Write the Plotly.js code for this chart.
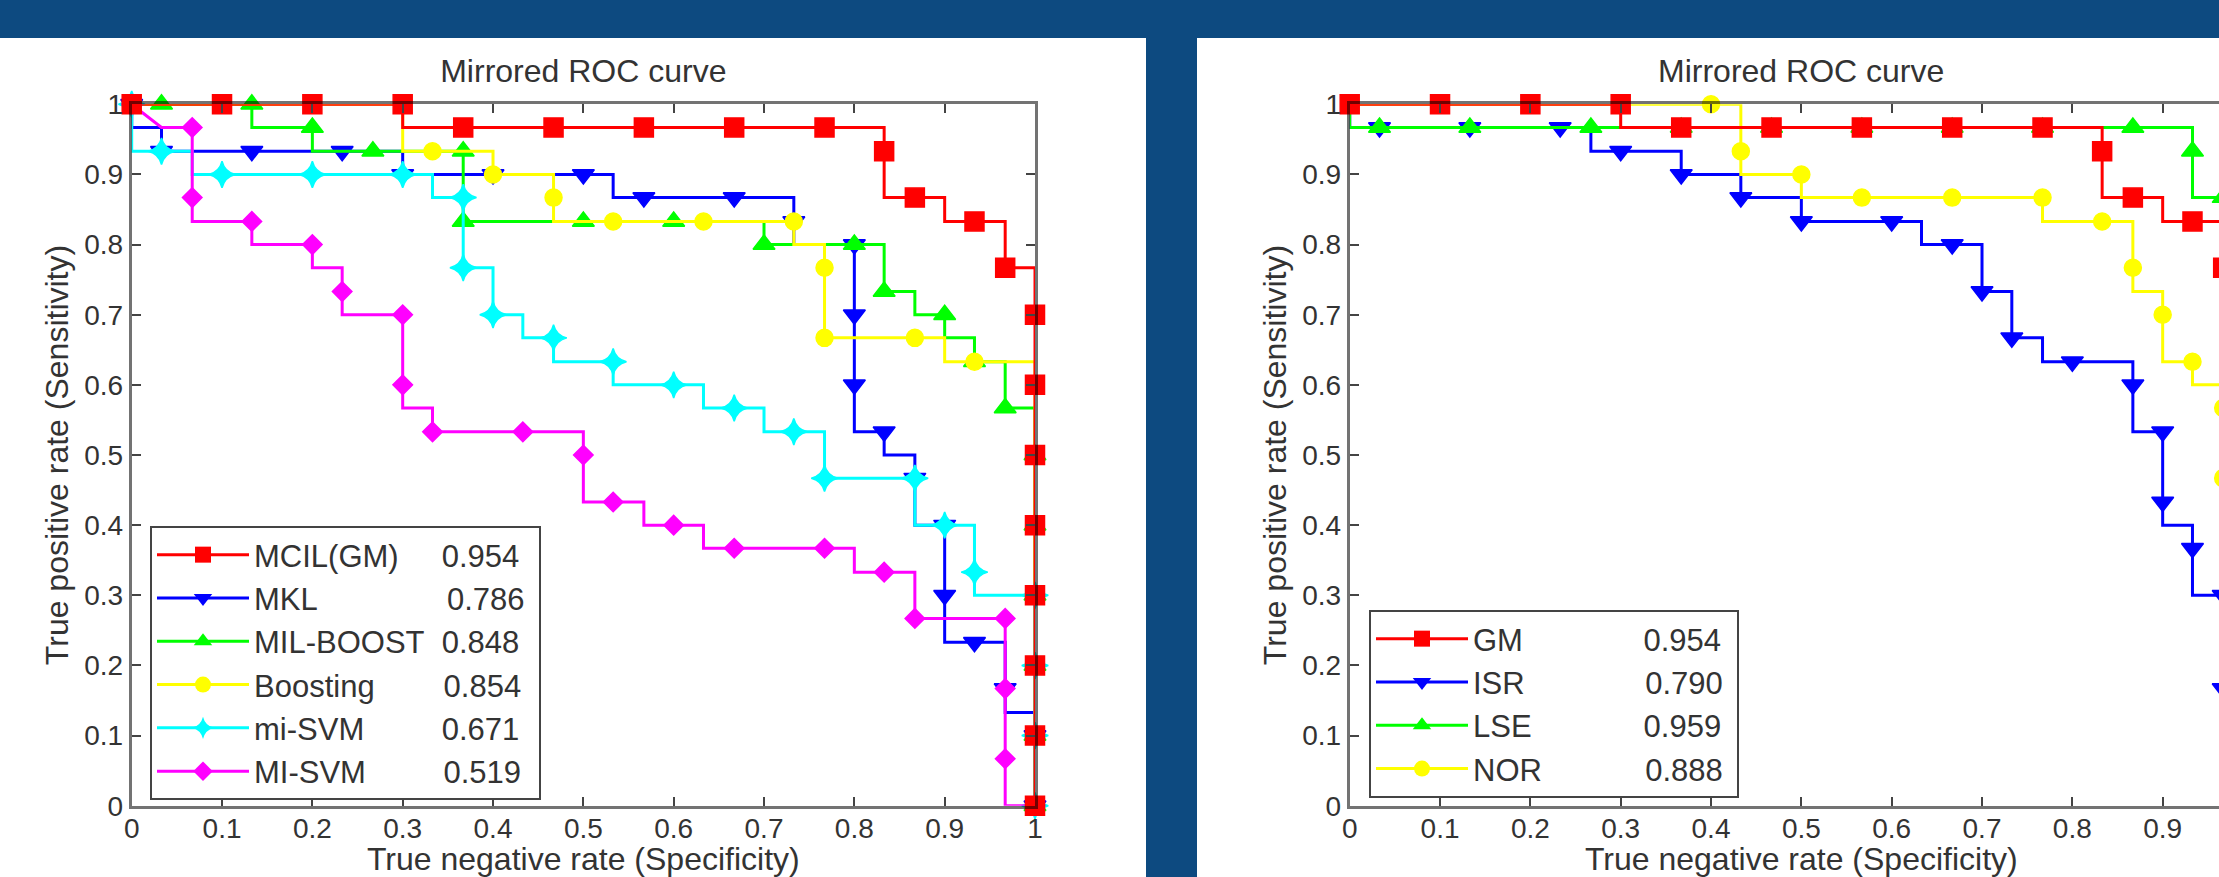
<!DOCTYPE html>
<html>
<head>
<meta charset="utf-8">
<script src="https://cdn.plot.ly/plotly-3.0.1.min.js"></script>
<style>
html,body{margin:0;padding:0;background:#0d4a80;overflow:hidden}
#wrap{width:2219px;height:877px;overflow:hidden;position:relative}
#chart{width:2300px;height:877px}
</style>
</head>
<body>
<div id="wrap"><div id="chart"></div></div>
<script>
// ---------------- data ----------------
const axisTicks = [0, 0.1, 0.2, 0.3, 0.4, 0.5, 0.6, 0.7, 0.8, 0.9, 1];
const axisTickText = ['0', '0.1', '0.2', '0.3', '0.4', '0.5', '0.6', '0.7', '0.8', '0.9', '1'];

const chartTitle = 'Mirrored ROC curve';
const xTitle = 'True negative rate (Specificity)';
const yTitle = 'True positive rate (Sensitivity)';

const leftNames = ['MCIL(GM)', 'MKL', 'MIL-BOOST', 'Boosting', 'mi-SVM', 'MI-SVM'];
const leftAUC = ['0.954', '0.786', '0.848', '0.854', '0.671', '0.519'];
const rightNames = ['GM', 'ISR', 'LSE', 'NOR'];
const rightAUC = ['0.954', '0.790', '0.959', '0.888'];

// MCIL(GM) / GM : step-curve corners and marker points
const gmX = [0, 0.3, 0.3, 0.833, 0.833, 0.9, 0.9, 0.967, 0.967, 1, 1];
const gmY = [1, 1, 0.967, 0.967, 0.867, 0.867, 0.833, 0.833, 0.767, 0.767, 0];
const gmMarkX = [0, 0.1, 0.2, 0.3, 0.367, 0.467, 0.567, 0.667, 0.767, 0.833, 0.867, 0.933, 0.967, 1, 1, 1, 1, 1, 1, 1, 1];
const gmMarkY = [1, 1, 1, 1, 0.967, 0.967, 0.967, 0.967, 0.967, 0.933, 0.867, 0.833, 0.767, 0.7, 0.6, 0.5, 0.4, 0.3, 0.2, 0.1, 0];

// MKL
const mklX = [0, 0, 0.033, 0.033, 0.3, 0.3, 0.533, 0.533, 0.733, 0.733, 0.8, 0.8, 0.833, 0.833, 0.867, 0.867, 0.9, 0.9, 0.967, 0.967, 1, 1];
const mklY = [1, 0.967, 0.967, 0.933, 0.933, 0.9, 0.9, 0.867, 0.867, 0.8, 0.8, 0.533, 0.533, 0.5, 0.5, 0.4, 0.4, 0.233, 0.233, 0.133, 0.133, 0];
const mklMarkX = [0, 0.033, 0.133, 0.233, 0.3, 0.4, 0.5, 0.567, 0.667, 0.733, 0.8, 0.8, 0.8, 0.833, 0.867, 0.9, 0.9, 0.933, 0.967, 1, 1];
const mklMarkY = [1, 0.933, 0.933, 0.933, 0.9, 0.9, 0.9, 0.867, 0.867, 0.833, 0.8, 0.7, 0.6, 0.533, 0.467, 0.4, 0.3, 0.233, 0.167, 0.1, 0];

// MIL-BOOST
const milX = [0, 0.133, 0.133, 0.2, 0.2, 0.367, 0.367, 0.7, 0.7, 0.833, 0.833, 0.867, 0.867, 0.9, 0.9, 0.933, 0.933, 0.967, 0.967, 1, 1];
const milY = [1, 1, 0.967, 0.967, 0.933, 0.933, 0.833, 0.833, 0.8, 0.8, 0.733, 0.733, 0.7, 0.7, 0.667, 0.667, 0.633, 0.633, 0.567, 0.567, 0];
const milMarkX = [0.033, 0.133, 0.2, 0.267, 0.367, 0.367, 0.5, 0.6, 0.7, 0.8, 0.833, 0.9, 0.933, 0.967, 1, 1, 1, 1, 1, 1];
const milMarkY = [1, 1, 0.967, 0.933, 0.933, 0.833, 0.833, 0.833, 0.8, 0.8, 0.733, 0.7, 0.633, 0.567, 0.5, 0.4, 0.3, 0.2, 0.1, 0];

// Boosting
const bstX = [0, 0.3, 0.3, 0.4, 0.4, 0.467, 0.467, 0.733, 0.733, 0.767, 0.767, 0.9, 0.9, 1, 1];
const bstY = [1, 1, 0.933, 0.933, 0.9, 0.9, 0.833, 0.833, 0.8, 0.8, 0.667, 0.667, 0.633, 0.633, 0];
const bstMarkX = [0, 0.1, 0.2, 0.3, 0.333, 0.4, 0.467, 0.533, 0.633, 0.733, 0.767, 0.767, 0.867, 0.933, 1, 1, 1, 1, 1, 1, 1];
const bstMarkY = [1, 1, 1, 1, 0.933, 0.9, 0.867, 0.833, 0.833, 0.833, 0.767, 0.667, 0.667, 0.633, 0.6, 0.5, 0.4, 0.3, 0.2, 0.1, 0];

// mi-SVM
const miX = [0, 0, 0.067, 0.067, 0.333, 0.333, 0.367, 0.367, 0.4, 0.4, 0.433, 0.433, 0.467, 0.467, 0.533, 0.533, 0.633, 0.633, 0.7, 0.7, 0.767, 0.767, 0.867, 0.867, 0.933, 0.933, 1, 1];
const miY = [1, 0.933, 0.933, 0.9, 0.9, 0.867, 0.867, 0.767, 0.767, 0.7, 0.7, 0.667, 0.667, 0.633, 0.633, 0.6, 0.6, 0.567, 0.567, 0.533, 0.533, 0.467, 0.467, 0.4, 0.4, 0.3, 0.3, 0];
const miMarkX = [0, 0.033, 0.1, 0.2, 0.3, 0.367, 0.367, 0.4, 0.467, 0.533, 0.6, 0.667, 0.733, 0.767, 0.867, 0.9, 0.933, 1, 1, 1, 1];
const miMarkY = [1, 0.933, 0.9, 0.9, 0.9, 0.867, 0.767, 0.7, 0.667, 0.633, 0.6, 0.567, 0.533, 0.467, 0.467, 0.4, 0.333, 0.3, 0.2, 0.1, 0];

// MI-SVM
const MIX = [0, 0.033, 0.067, 0.067, 0.133, 0.133, 0.2, 0.2, 0.233, 0.233, 0.3, 0.3, 0.333, 0.333, 0.5, 0.5, 0.567, 0.567, 0.633, 0.633, 0.8, 0.8, 0.867, 0.867, 0.967, 0.967, 1];
const MIY = [1, 0.967, 0.967, 0.833, 0.833, 0.8, 0.8, 0.767, 0.767, 0.7, 0.7, 0.567, 0.567, 0.533, 0.533, 0.433, 0.433, 0.4, 0.4, 0.367, 0.367, 0.333, 0.333, 0.267, 0.267, 0, 0];
const MIMarkX = [0, 0.067, 0.067, 0.133, 0.2, 0.233, 0.3, 0.3, 0.333, 0.433, 0.5, 0.533, 0.6, 0.667, 0.767, 0.833, 0.867, 0.967, 0.967, 0.967, 1];
const MIMarkY = [1, 0.967, 0.867, 0.833, 0.8, 0.733, 0.7, 0.6, 0.533, 0.533, 0.5, 0.433, 0.4, 0.367, 0.367, 0.333, 0.267, 0.267, 0.167, 0.067, 0];

// ISR
const isrX = [0, 0, 0.267, 0.267, 0.367, 0.367, 0.433, 0.433, 0.5, 0.5, 0.633, 0.633, 0.7, 0.7, 0.733, 0.733, 0.767, 0.767, 0.867, 0.867, 0.9, 0.9, 0.933, 0.933, 0.967, 0.967, 1, 1];
const isrY = [1, 0.967, 0.967, 0.933, 0.933, 0.9, 0.9, 0.867, 0.867, 0.833, 0.833, 0.8, 0.8, 0.733, 0.733, 0.667, 0.667, 0.633, 0.633, 0.533, 0.533, 0.4, 0.4, 0.3, 0.3, 0.133, 0.133, 0];
const isrMarkX = [0.033, 0.133, 0.233, 0.3, 0.367, 0.433, 0.5, 0.6, 0.667, 0.7, 0.733, 0.8, 0.867, 0.9, 0.9, 0.933, 0.967, 0.967, 1, 1];
const isrMarkY = [0.967, 0.967, 0.967, 0.933, 0.9, 0.867, 0.833, 0.833, 0.8, 0.733, 0.667, 0.633, 0.6, 0.533, 0.433, 0.367, 0.3, 0.167, 0.1, 0];

// LSE
const lseX = [0, 0, 0.933, 0.933, 1, 1];
const lseY = [1, 0.967, 0.967, 0.867, 0.867, 0];
const lseMarkX = [0.033, 0.133, 0.267, 0.367, 0.467, 0.567, 0.667, 0.767, 0.867, 0.933, 0.967, 1, 1, 1, 1, 1, 1, 1, 1, 1];
const lseMarkY = [0.967, 0.967, 0.967, 0.967, 0.967, 0.967, 0.967, 0.967, 0.967, 0.933, 0.867, 0.8, 0.7, 0.6, 0.5, 0.4, 0.3, 0.2, 0.1, 0];

// NOR
const norX = [0, 0.433, 0.433, 0.5, 0.5, 0.767, 0.767, 0.867, 0.867, 0.9, 0.9, 0.933, 0.933, 0.967, 0.967, 1, 1];
const norY = [1, 1, 0.9, 0.9, 0.867, 0.867, 0.833, 0.833, 0.733, 0.733, 0.633, 0.633, 0.6, 0.6, 0.4, 0.4, 0];
const norMarkX = [0, 0.1, 0.2, 0.3, 0.4, 0.433, 0.5, 0.567, 0.667, 0.767, 0.833, 0.867, 0.9, 0.933, 0.967, 0.967, 1, 1, 1, 1, 1];
const norMarkY = [1, 1, 1, 1, 1, 0.933, 0.9, 0.867, 0.867, 0.867, 0.833, 0.767, 0.7, 0.633, 0.567, 0.467, 0.4, 0.3, 0.2, 0.1, 0];

// ---------------- style / layout ----------------
const W = 2300, H = 877;
const FONT = '"Liberation Sans", Arial, sans-serif';
const TXT = '#333333';

const styles = {
  red:     {color: '#ff0000', symbol: 'square',        size: 19},
  blue:    {color: '#0000ff', symbol: 'triangle-down', size: 19},
  green:   {color: '#00ff00', symbol: 'triangle-up',   size: 19},
  yellow:  {color: '#ffff00', symbol: 'circle',        size: 17},
  cyan:    {color: '#00ffff', symbol: 'star-diamond',  size: 19},
  magenta: {color: '#ff00ff', symbol: 'diamond',       size: 15}
};

const LFS = 31;
const measureCtx = document.createElement('canvas').getContext('2d');
function legendLabel(name, val, target, fs) {
  measureCtx.font = fs + 'px "Liberation Sans"';
  const w = measureCtx.measureText(name).width;
  const s = measureCtx.measureText('\u00A0').width;
  const n = Math.max(1, Math.round((target - w) / s));
  return name + '\u00A0'.repeat(n) + val + '\u00A0';
}

function curve(xs, ys, mx, my, st, xa, ya) {
  return [
    {x: xs, y: ys, xaxis: xa, yaxis: ya, mode: 'lines', showlegend: false,
     line: {color: st.color, width: 3}, hoverinfo: 'skip'},
    {x: mx, y: my, xaxis: xa, yaxis: ya, mode: 'markers', showlegend: false, cliponaxis: false,
     marker: {symbol: st.symbol, size: st.size, color: st.color, line: {color: st.color, width: 1.5}}, hoverinfo: 'skip'}
  ];
}
function legendEntry(label, st, legendId) {
  return {x: [null], y: [null], mode: 'lines+markers', name: label, legend: legendId,
          line: {color: st.color, width: 3},
          marker: {symbol: st.symbol, size: st.size, color: st.color}};
}

const traces = [].concat(
  // left panel, bottom to top
  curve(mklX, mklY, mklMarkX, mklMarkY, styles.blue, 'x', 'y'),
  curve(milX, milY, milMarkX, milMarkY, styles.green, 'x', 'y'),
  curve(bstX, bstY, bstMarkX, bstMarkY, styles.yellow, 'x', 'y'),
  curve(miX, miY, miMarkX, miMarkY, styles.cyan, 'x', 'y'),
  curve(MIX, MIY, MIMarkX, MIMarkY, styles.magenta, 'x', 'y'),
  curve(gmX, gmY, gmMarkX, gmMarkY, styles.red, 'x', 'y'),
  // right panel
  curve(isrX, isrY, isrMarkX, isrMarkY, styles.blue, 'x2', 'y2'),
  curve(lseX, lseY, lseMarkX, lseMarkY, styles.green, 'x2', 'y2'),
  curve(norX, norY, norMarkX, norMarkY, styles.yellow, 'x2', 'y2'),
  curve(gmX, gmY, gmMarkX, gmMarkY, styles.red, 'x2', 'y2')
);
const leftStyles = [styles.red, styles.blue, styles.green, styles.yellow, styles.cyan, styles.magenta];
leftNames.forEach((n, i) => traces.push(legendEntry(legendLabel(n, leftAUC[i], 192, LFS), leftStyles[i], 'legend')));
const rightStyles = [styles.red, styles.blue, styles.green, styles.yellow];
rightNames.forEach((n, i) => traces.push(legendEntry(legendLabel(n, rightAUC[i], 168, LFS), rightStyles[i], 'legend2')));

function xAxis(d0, d1, anchor) {
  return {domain: [d0 / W, d1 / W], range: [0, 1], anchor: anchor, fixedrange: true,
    tickmode: 'array', tickvals: axisTicks, ticktext: axisTickText,
    ticks: 'inside', ticklen: 9, tickwidth: 2, tickcolor: '#444', ticklabelstandoff: -4,
    showline: true, linecolor: 'rgba(0,0,0,0.55)', linewidth: 3, mirror: 'ticks',
    showgrid: false, zeroline: false,
    tickfont: {size: 28, color: TXT, family: FONT},
    title: {text: xTitle, font: {size: 32, color: TXT, family: FONT}, standoff: 24}};
}
function yAxis(anchor) {
  return {domain: [(H - 805.7) / H, (H - 104.3) / H], range: [0, 1], anchor: anchor, fixedrange: true,
    tickmode: 'array', tickvals: axisTicks, ticktext: axisTickText,
    ticks: 'inside', ticklen: 9, tickwidth: 2, tickcolor: '#444',
    showline: true, linecolor: 'rgba(0,0,0,0.55)', linewidth: 3, mirror: 'ticks',
    showgrid: false, zeroline: false,
    tickfont: {size: 28, color: TXT, family: FONT},
    title: {text: yTitle, font: {size: 32, color: TXT, family: FONT}, standoff: 6}};
}

const legendBase = {xanchor: 'left', yanchor: 'top', bgcolor: '#ffffff', bordercolor: '#444444',
  borderwidth: 2, font: {size: LFS, color: TXT, family: FONT}, tracegroupgap: 0, itemwidth: 92};

const layout = {
  width: W, height: H, autosize: false,
  margin: {l: 0, r: 0, t: 0, b: 0, pad: 0},
  paper_bgcolor: '#0d4a80', plot_bgcolor: '#ffffff',
  showlegend: true, hovermode: false,
  title: {text: chartTitle, font: {size: 32, color: TXT, family: FONT},
          x: 583.35 / W, xanchor: 'center', xref: 'container',
          y: 1 - 71 / H, yanchor: 'middle', yref: 'container'},
  xaxis: xAxis(131.7, 1035, 'y'),
  yaxis: yAxis('x'),
  xaxis2: xAxis(1349.7, 2253, 'y2'),
  yaxis2: yAxis('x2'),
  legend: Object.assign({x: 150 / W, y: 1 - 526 / H}, legendBase),
  legend2: Object.assign({x: 1369 / W, y: 1 - 610 / H}, legendBase),
  annotations: [
    {text: chartTitle, xref: 'paper', yref: 'paper', x: 1801.35 / W, y: 1 - 71 / H,
     xanchor: 'center', yanchor: 'middle', showarrow: false,
     font: {size: 32, color: TXT, family: FONT}}
  ],
  shapes: [
    {type: 'rect', xref: 'paper', yref: 'paper', x0: 0, x1: 1146 / W, y0: 0, y1: 1 - 38 / H,
     fillcolor: '#ffffff', line: {width: 0}, layer: 'below'},
    {type: 'rect', xref: 'paper', yref: 'paper', x0: 1197 / W, x1: 1, y0: 0, y1: 1 - 38 / H,
     fillcolor: '#ffffff', line: {width: 0}, layer: 'below'}
  ]
};

Plotly.newPlot('chart', traces, layout, {staticPlot: true, displayModeBar: false});
</script>
</body>
</html>
